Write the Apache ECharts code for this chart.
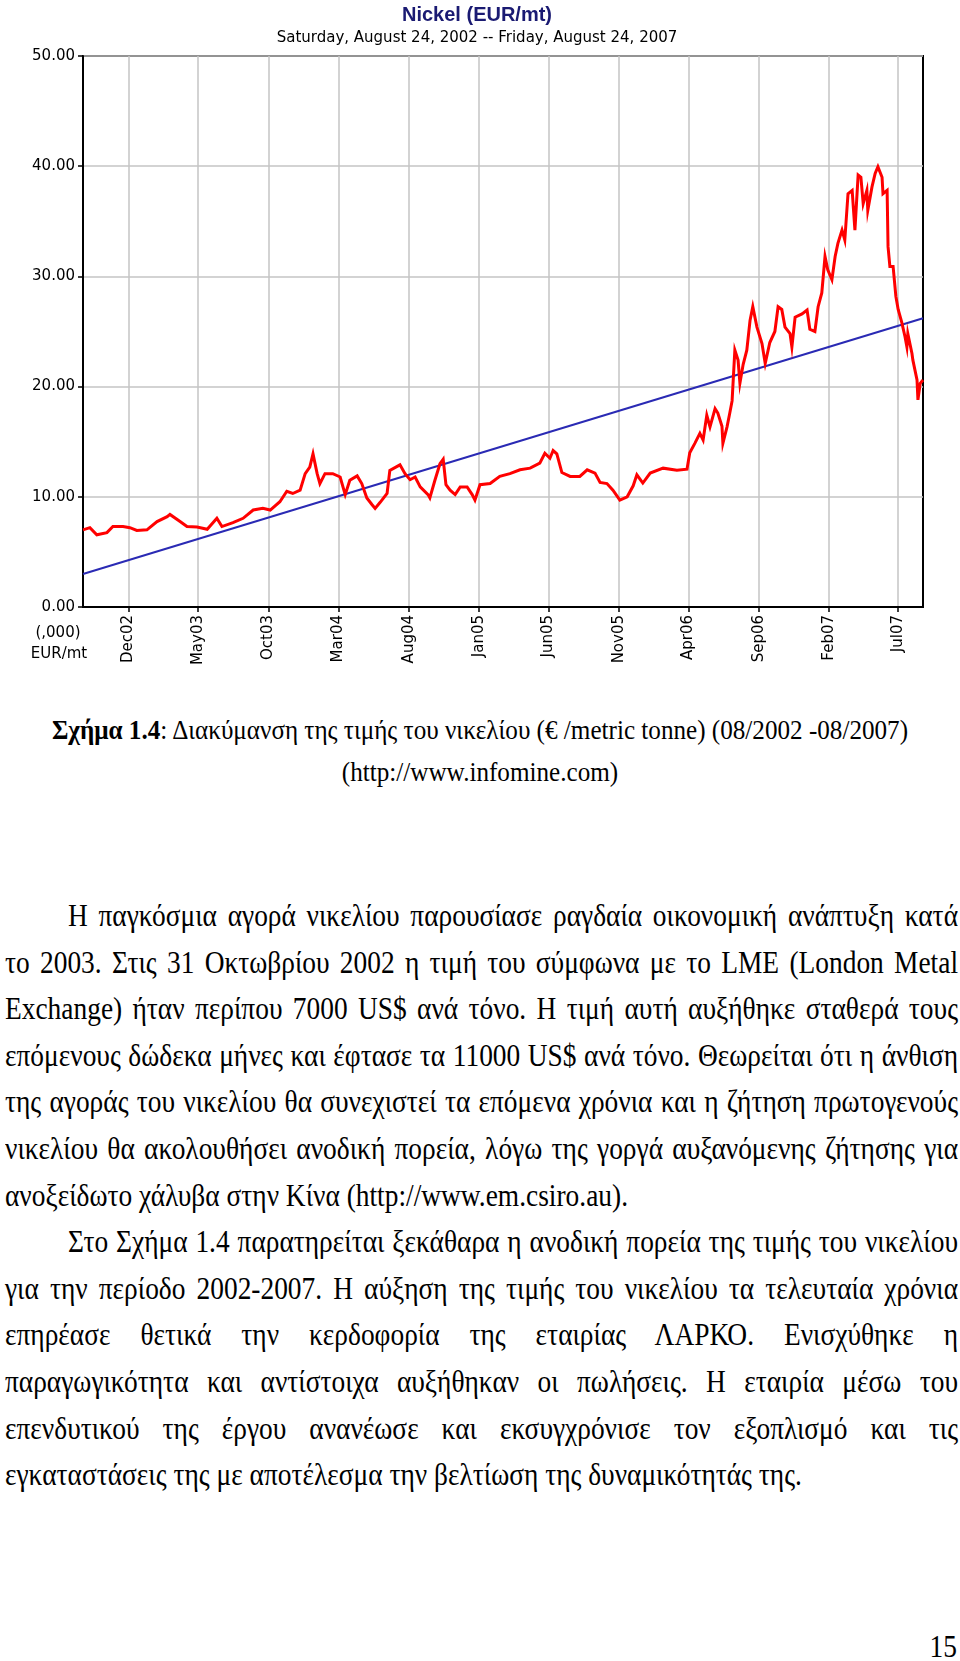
<!DOCTYPE html>
<html><head><meta charset="utf-8">
<script src="https://cdn.jsdelivr.net/npm/echarts@6/dist/echarts.min.js"></script>
<style>
html,body{margin:0;padding:0;background:#fff;}
#page{position:relative;width:960px;height:1661px;overflow:hidden;background:#fff;}
#chart{position:absolute;left:0;top:0;width:960px;height:700px;}
.t{position:absolute;font-family:"Liberation Serif","Times New Roman",serif;color:#000;line-height:30px;height:30px;white-space:nowrap;transform:scaleY(1.12);transform-origin:50% 60%;}
.j{left:5px;width:953px;text-align:justify;text-align-last:justify;white-space:normal;overflow:visible;}
.ji{left:68px;width:890px;}
.l{left:5px;}
.c{left:0;width:960px;text-align:center;}
</style></head>
<body><div id="page">
<div id="chart"></div>
<div class="t c cap" id="capline" style="top:715px"><b>Σχήμα 1.4</b>: Διακύμανση της τιμής του νικελίου (€ /metric tonne) (08/2002 -08/2007)</div>
<div class="t c cap" style="top:757px">(http://www.infomine.com)</div>
<div class="t j ji body" style="top:901px">Η παγκόσμια αγορά νικελίου παρουσίασε ραγδαία οικονομική ανάπτυξη κατά</div>
<div class="t j body" style="top:947.6px">το 2003. Στις 31 Οκτωβρίου 2002 η τιμή του σύμφωνα με το LME (London Metal</div>
<div class="t j body" style="top:994.2px">Exchange) ήταν περίπου 7000 US$ ανά τόνο. Η τιμή αυτή αυξήθηκε σταθερά τους</div>
<div class="t j body" style="top:1040.8px">επόμενους δώδεκα μήνες και έφτασε τα 11000 US$ ανά τόνο. Θεωρείται ότι η άνθιση</div>
<div class="t j body" style="top:1087.4px">της αγοράς του νικελίου θα συνεχιστεί τα επόμενα χρόνια και η ζήτηση πρωτογενούς</div>
<div class="t j body" style="top:1134px">νικελίου θα ακολουθήσει ανοδική πορεία, λόγω της γοργά αυξανόμενης ζήτησης για</div>
<div class="t l body" style="top:1180.6px">ανοξείδωτο χάλυβα στην Κίνα (http://www.em.csiro.au).</div>
<div class="t j ji body" style="top:1227.2px">Στο Σχήμα 1.4 παρατηρείται ξεκάθαρα η ανοδική πορεία της τιμής του νικελίου</div>
<div class="t j body" style="top:1273.8px">για την περίοδο 2002-2007. Η αύξηση της τιμής του νικελίου τα τελευταία χρόνια</div>
<div class="t j body" style="top:1320.4px">επηρέασε θετικά την κερδοφορία της εταιρίας ΛΑΡΚΟ. Ενισχύθηκε η</div>
<div class="t j body" style="top:1367px">παραγωγικότητα και αντίστοιχα αυξήθηκαν οι πωλήσεις. Η εταιρία μέσω του</div>
<div class="t j body" style="top:1413.6px">επενδυτικού της έργου ανανέωσε και εκσυγχρόνισε τον εξοπλισμό και τις</div>
<div class="t l body" id="lastline" style="top:1460.2px">εγκαταστάσεις της με αποτέλεσμα την βελτίωση της δυναμικότητάς της.</div>
<div class="t body" style="top:1632px;right:3px;">15</div>
</div>
<script>
// ---- data ----
const priceDates = ['2002-08-24','2002-09-08','2002-09-23','2002-10-15','2002-10-28','2002-11-19','2002-12-04','2002-12-19','2003-01-10','2003-02-01','2003-02-23','2003-03-01','2003-03-23','2003-04-07','2003-04-29','2003-05-21','2003-06-11','2003-06-22','2003-07-16','2003-08-07','2003-08-29','2003-09-19','2003-10-05','2003-10-26','2003-11-10','2003-11-23','2003-12-09','2003-12-20','2003-12-30','2004-01-06','2004-01-15','2004-01-21','2004-02-01','2004-02-18','2004-03-05','2004-03-16','2004-03-26','2004-04-11','2004-04-21','2004-05-02','2004-05-13','2004-05-20','2004-05-31','2004-06-15','2004-06-21','2004-07-13','2004-07-24','2004-08-04','2004-08-15','2004-08-26','2004-09-12','2004-09-16','2004-09-27','2004-10-08','2004-10-15','2004-10-21','2004-10-30','2004-11-10','2004-11-21','2004-12-06','2004-12-17','2004-12-23','2005-01-03','2005-01-25','2005-02-15','2005-03-09','2005-03-31','2005-04-22','2005-05-13','2005-05-24','2005-06-04','2005-06-11','2005-06-19','2005-06-30','2005-07-18','2005-08-08','2005-08-24','2005-09-10','2005-09-21','2005-10-06','2005-10-19','2005-11-03','2005-11-19','2005-12-02','2005-12-10','2005-12-23','2006-01-08','2006-02-05','2006-03-07','2006-03-29','2006-04-04','2006-04-15','2006-04-26','2006-05-03','2006-05-11','2006-05-18','2006-05-29','2006-06-04','2006-06-13','2006-06-15','2006-06-24','2006-06-30','2006-07-05','2006-07-11','2006-07-18','2006-07-22','2006-07-29','2006-08-06','2006-08-13','2006-08-19','2006-08-28','2006-09-08','2006-09-15','2006-09-25','2006-10-06','2006-10-13','2006-10-21','2006-10-28','2006-11-08','2006-11-12','2006-11-19','2006-12-04','2006-12-15','2006-12-21','2007-01-01','2007-01-08','2007-01-16','2007-01-23','2007-01-29','2007-02-07','2007-02-14','2007-02-20','2007-03-01','2007-03-07','2007-03-14','2007-03-23','2007-03-29','2007-04-05','2007-04-11','2007-04-16','2007-04-24','2007-04-26','2007-05-05','2007-05-12','2007-05-18','2007-05-27','2007-05-29','2007-06-07','2007-06-09','2007-06-13','2007-06-20','2007-06-26','2007-07-01','2007-07-09','2007-07-16','2007-07-20','2007-07-22','2007-07-31','2007-08-02','2007-08-11','2007-08-13','2007-08-18','2007-08-24'];
const priceValues = [7.0,7.2,6.55,6.75,7.3,7.3,7.2,6.95,7.0,7.75,8.2,8.4,7.75,7.3,7.25,7.05,8.05,7.3,7.65,8.05,8.8,8.95,8.8,9.55,10.5,10.3,10.6,12.1,12.7,13.9,12.1,11.2,12.1,12.1,11.8,10.2,11.5,11.9,11.2,9.9,9.3,8.95,9.5,10.3,12.4,12.9,12.1,11.55,11.8,10.9,10.2,9.9,11.5,13.0,13.4,11.1,10.6,10.2,10.9,10.9,10.2,9.7,11.1,11.2,11.85,12.1,12.45,12.6,13.05,13.95,13.5,14.2,13.9,12.2,11.85,11.85,12.45,12.15,11.3,11.2,10.6,9.7,10.0,11.0,12.0,11.25,12.15,12.6,12.4,12.5,14.0,14.85,15.75,15.15,17.4,16.35,18.0,17.6,16.4,14.85,16.35,17.6,18.7,23.3,22.4,20.3,22.0,23.3,26.0,27.25,25.4,23.9,22.1,24.0,25.0,27.25,27.0,25.4,24.8,23.6,26.3,26.6,26.95,25.2,25.0,27.25,28.5,31.8,30.6,29.7,31.8,33.0,34.2,33.3,37.5,37.8,34.2,39.2,39.0,36.6,37.8,36.0,38.1,39.35,39.95,39.0,37.5,37.8,32.7,30.9,30.9,28.2,27.0,25.8,24.5,23.6,24.8,23.0,22.4,20.6,18.8,20.3,20.6];
const trendDates = ['2002-08-24','2007-08-24'];
const trendValues = [3.0, 26.2];
const xRange = ['2002-08-24','2007-08-24'];
const xTickDates = ['2002-12-01','2003-05-01','2003-10-01','2004-03-01','2004-08-01','2005-01-01','2005-06-01','2005-11-01','2006-04-01','2006-09-01','2007-02-01','2007-07-01'];
const xTickLabels = ['Dec02','May03','Oct03','Mar04','Aug04','Jan05','Jun05','Nov05','Apr06','Sep06','Feb07','Jul07'];
const yMin = 0, yMax = 50, yStep = 10;
const chartTitle = 'Nickel (EUR/mt)';
const chartSubtitle = 'Saturday, August 24, 2002 -- Friday, August 24, 2007';
const yUnitLines = ['(,000)', 'EUR/mt'];

// ---- text fitting (layout only) ----
(function(){
  const cv = document.createElement('canvas').getContext('2d');
  cv.font = '100px "Liberation Serif"';
  const w = cv.measureText(document.getElementById('lastline').textContent).width;
  const fs = 100 * 797 / w;
  document.querySelectorAll('.body').forEach(e => e.style.fontSize = fs + 'px');
  const cap = document.getElementById('capline');
  cv.font = 'bold 100px "Liberation Serif"';
  const wb = cv.measureText('Σχήμα 1.4').width;
  cv.font = '100px "Liberation Serif"';
  const wr = cv.measureText(cap.textContent.replace('Σχήμα 1.4', '')).width;
  const cfs = 100 * 858 / (wb + wr);
  document.querySelectorAll('.cap').forEach(e => e.style.fontSize = cfs + 'px');
})();

// ---- chart ----
const ts = s => Date.parse(s);
const tickTs = xTickDates.map(ts);
const priceData = priceDates.map((d, i) => [ts(d), priceValues[i]]);
const trendData = trendDates.map((d, i) => [ts(d), trendValues[i]]);
const AX = 'DejaVu Sans';

const chart = echarts.init(document.getElementById('chart'), null, {renderer: 'canvas'});
chart.setOption({
  animation: false,
  backgroundColor: '#fff',
  grid: {left: 83, right: 37, top: 56, height: 551, show: true, borderColor: '#000', borderWidth: 2, containLabel: false},
  graphic: [
    {type: 'text', x: 477, y: 15, style: {text: chartTitle, textAlign: 'center', textVerticalAlign: 'middle', font: 'bold 20px "Liberation Sans"', fill: '#1a1a72'}},
    {type: 'text', x: 477, y: 38, style: {text: chartSubtitle, textAlign: 'center', textVerticalAlign: 'middle', font: '15px "DejaVu Sans"', fill: '#000'}},
    {type: 'text', x: 58, y: 633, style: {text: yUnitLines[0], textAlign: 'center', textVerticalAlign: 'middle', font: '15px "DejaVu Sans"', fill: '#000'}},
    {type: 'text', x: 59, y: 654, style: {text: yUnitLines[1], textAlign: 'center', textVerticalAlign: 'middle', font: '15px "DejaVu Sans"', fill: '#000'}}
  ],
  xAxis: {
    type: 'value', min: ts(xRange[0]), max: ts(xRange[1]),
    axisLine: {show: true, onZero: false, lineStyle: {color: '#000', width: 2}},
    axisTick: {show: true, length: 5, customValues: tickTs, lineStyle: {color: '#000', width: 1.5}},
    axisLabel: {show: true, customValues: tickTs, rotate: 90, margin: 8, fontFamily: AX, fontSize: 15, color: '#000',
      formatter: v => { const i = tickTs.indexOf(v); return i >= 0 ? xTickLabels[i] : ''; }},
    splitLine: {show: true, lineStyle: {color: '#c4c4c4', width: 1.5}}
  },
  yAxis: {
    type: 'value', min: yMin, max: yMax, interval: yStep,
    axisLine: {show: true, lineStyle: {color: '#000', width: 2}},
    axisTick: {show: true, length: 5, lineStyle: {color: '#000', width: 1.5}},
    axisLabel: {margin: 8, fontFamily: AX, fontSize: 15, color: '#000', formatter: v => v.toFixed(2)},
    splitLine: {show: true, lineStyle: {color: '#c4c4c4', width: 1.5}}
  },
  series: [
    {type: 'line', name: 'trend', data: trendData, showSymbol: false, z: 3, lineStyle: {color: '#2a2ab4', width: 2}},
    {type: 'line', name: 'price', data: priceData, showSymbol: false, z: 4, lineStyle: {color: '#ff0000', width: 3, join: 'miter'}}
  ]
});
</script>
</body></html>
